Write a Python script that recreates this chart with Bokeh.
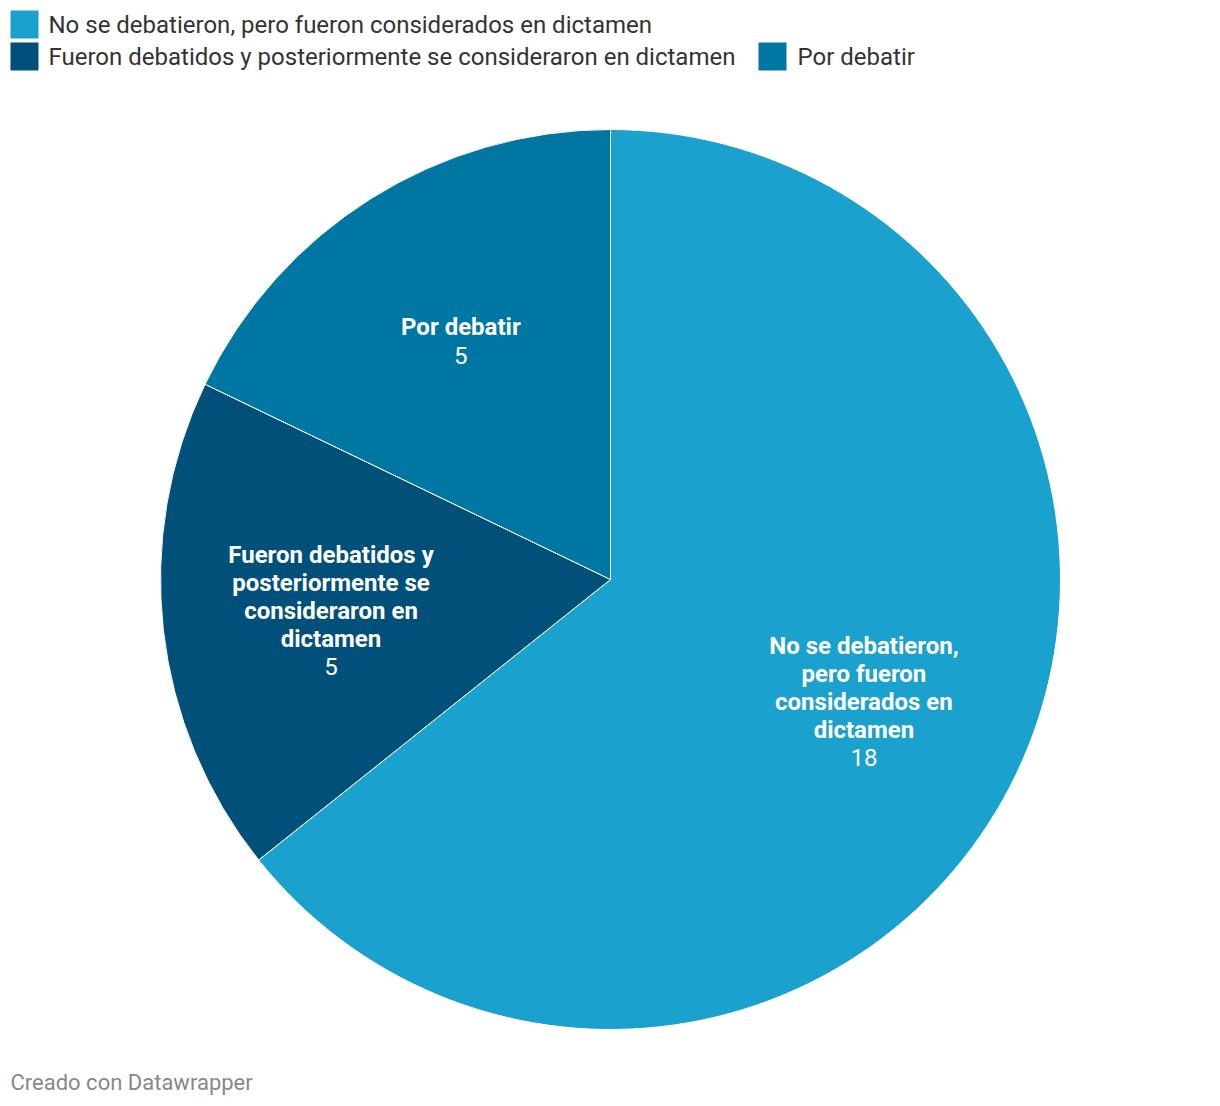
import math
from bokeh.plotting import figure
from bokeh.models import Range1d, ColumnDataSource
from bokeh.core.properties import value
from bokeh.embed import file_html
from bokeh.resources import INLINE

# ---- data ----
categories = [
    "No se debatieron, pero fueron considerados en dictamen",
    "Fueron debatidos y posteriormente se consideraron en dictamen",
    "Por debatir",
]
values = [18, 5, 5]
colors = ["#1aa1cd", "#00507a", "#0077a3"]
label_lines = [
    ["No se debatieron,", "pero fueron", "considerados en", "dictamen"],
    ["Fueron debatidos y", "posteriormente se", "consideraron en", "dictamen"],
    ["Por debatir"],
]
footer = "Creado con Datawrapper"

# ---- layout (page pixel coordinates; y is negated) ----
W, H = 1204, 1098
cx, cy, R = 610, 579, 450
FONT = "Roboto"
LINE_H = 28

p = figure(width=W, height=H, output_backend="svg", toolbar_location=None,
           x_range=Range1d(0, W), y_range=Range1d(-H, 0),
           x_axis_type=None, y_axis_type=None, min_border=0)
p.outline_line_color = None
p.grid.visible = False
p.background_fill_color = "white"
p.border_fill_color = "white"

total = sum(values)
starts, ends, mids = [], [], []
cum = 0.0
for v in values:
    a0 = math.pi / 2 - 2 * math.pi * cum / total
    cum += v
    a1 = math.pi / 2 - 2 * math.pi * cum / total
    starts.append(a0)
    ends.append(a1)
    mids.append((a0 + a1) / 2)

src = ColumnDataSource(dict(x=[cx] * len(values), y=[-cy] * len(values),
                            start=starts, end=ends, color=colors))
p.wedge(x="x", y="y", radius=R, start_angle="start", end_angle="end",
        direction="clock", fill_color="color", line_color="white",
        line_width=1, source=src)

# slice labels
bx, by, bt, vx, vy, vt = [], [], [], [], [], []
for lines, v, m in zip(label_lines, values, mids):
    lx = cx + 0.625 * R * math.cos(m)
    ly = cy - 0.625 * R * math.sin(m)
    n = len(lines)
    for i, t in enumerate(lines):
        bx.append(lx)
        by.append(-(ly + (i - n / 2) * LINE_H))
        bt.append(t)
    vx.append(lx)
    vy.append(-(ly + (n / 2) * LINE_H))
    vt.append(str(v))

p.text(x=bx, y=by, text=bt, text_color="white", text_font=value(FONT),
       text_font_style="bold", text_font_size="24px", text_align="center",
       text_baseline="middle")
p.text(x=vx, y=vy, text=vt, text_color="white", text_font=value(FONT),
       text_font_size="24px", text_align="center", text_baseline="middle")

# legend
leg_x = [24, 24, 772]
leg_y = [24, 56, 56]
leg_tx = [48, 48, 797]
p.rect(x=leg_x, y=[-y for y in leg_y], width=28, height=28,
       fill_color=colors, line_color=None)
p.text(x=leg_tx, y=[-y for y in leg_y], text=categories, text_color="#333333",
       text_font=value(FONT), text_font_size="24px", text_align="left",
       text_baseline="middle")

# footer
p.text(x=[10], y=[-1082], text=[footer], text_color="#888888",
       text_font=value(FONT), text_font_size="22px", text_align="left",
       text_baseline="middle")

open("out.html", "w").write(file_html(p, INLINE))
